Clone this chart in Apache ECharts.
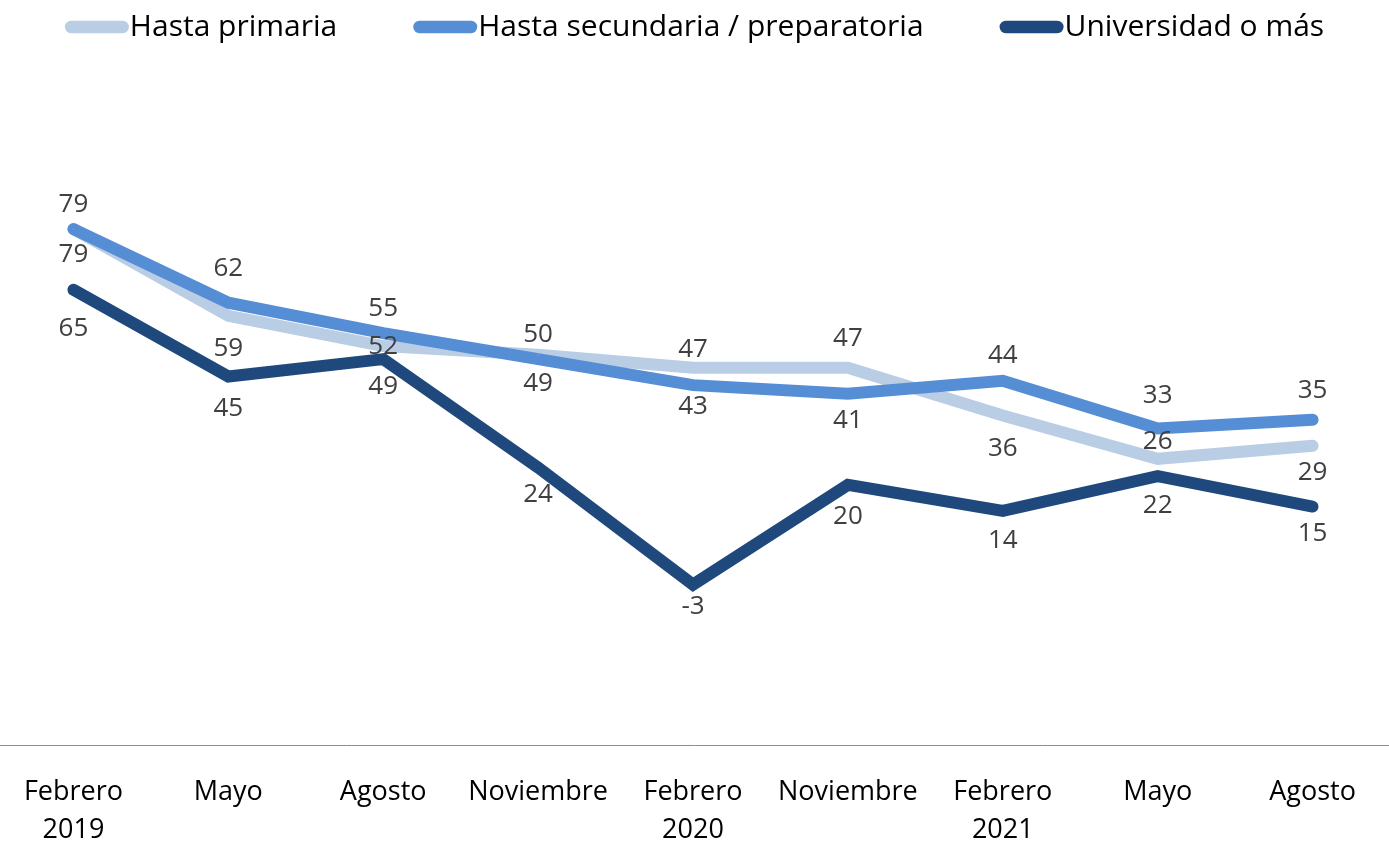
<!DOCTYPE html>
<html>
<head>
    <meta charset="utf-8">
    <script src="https://cdn.jsdelivr.net/npm/echarts@6/dist/echarts.min.js"></script>
    <style>
        html, body { margin: 0; padding: 0; background: #fff; }
    </style>
</head>
<body>
    <div id="chart" style="width: 1389px;height:842px;"></div>
	<script type="text/javascript">
		// periodos
		var categorias = ['Febrero\n2019', 'Mayo', 'Agosto', 'Noviembre', 'Febrero\n2020', 'Noviembre', 'Febrero\n2021', 'Mayo', 'Agosto'];
		var nombres = ['Hasta primaria', 'Hasta secundaria / preparatoria', 'Universidad o más'];
		var primaria = [79, 59, 52, 50, 47, 47, 36, 26, 29];
		var secundaria = [79, 62, 55, 49, 43, 41, 44, 33, 35];
		var universidad = [65, 45, 49, 24, -3, 20, 14, 22, 15];

		// desplazamiento vertical de cada etiqueta respecto al punto (px, negativo = arriba)
		var despPrimaria = [26, 33, 0, -20, -18, -29, 33, -17, 27];
		var despSecundaria = [-24, -34, -25, 24, 21, 27, -25, -33, -29];
		var despUniversidad = [39, 32, 27, 27, 22, 32, 30, 29, 27];

		var colores = ['#B9CDE5', '#558ED5', '#1F497D'];
		var pill = 'path://M6,0 H56 A6,6 0 0 1 56,12 H6 A6,6 0 0 1 6,0 Z';

		function serie(nombre, valores, desp, color) {
			return {
				name: nombre,
				type: 'line',
				symbol: 'circle',
				symbolSize: 1,
				showSymbol: true,
				color: color,
				itemStyle: { color: color },
				lineStyle: { width: 12, color: color, cap: 'round', join: 'miter' },
				data: valores.map(function (v, i) {
					return {
						value: v,
						label: { offset: [0, desp[i]] }
					};
				}),
				label: {
					show: true,
					position: 'inside',
					fontFamily: 'Open Sans',
					fontSize: 26,
					color: '#404040'
				},
				emphasis: { disabled: true },
				animation: false
			};
		}

		var myChart = echarts.init(document.getElementById('chart'));
		var option = {
			animation: false,
			textStyle: { fontFamily: 'Open Sans' },
			legend: {
				top: 7,
				left: 'center',
				itemWidth: 64,
				itemHeight: 13,
				itemGap: 76,
				textStyle: { fontSize: 30, color: '#000', fontFamily: 'Open Sans', padding: [0, 0, 0, -4] },
				data: nombres.map(function (n) { return { name: n, icon: pill }; })
			},
			grid: { left: -4, right: -1, top: 138, bottom: 97, outerBoundsMode: 'none', containLabel: false },
			xAxis: {
				type: 'category',
				data: categorias,
				boundaryGap: true,
				axisLine: { onZero: false, lineStyle: { color: '#8C8C8C', width: 1 } },
				axisTick: { show: false },
				axisLabel: {
					fontSize: 27,
					color: '#000',
					fontFamily: 'Open Sans',
					lineHeight: 38,
					margin: 28,
					interval: 0
				}
			},
			yAxis: {
				type: 'value',
				min: -40,
				max: 100,
				show: false,
				splitLine: { show: false }
			},
			series: [
				serie(nombres[0], primaria, despPrimaria, colores[0]),
				serie(nombres[1], secundaria, despSecundaria, colores[1]),
				serie(nombres[2], universidad, despUniversidad, colores[2])
			]
		};
		myChart.setOption(option);
    </script>
</body>
</html>
